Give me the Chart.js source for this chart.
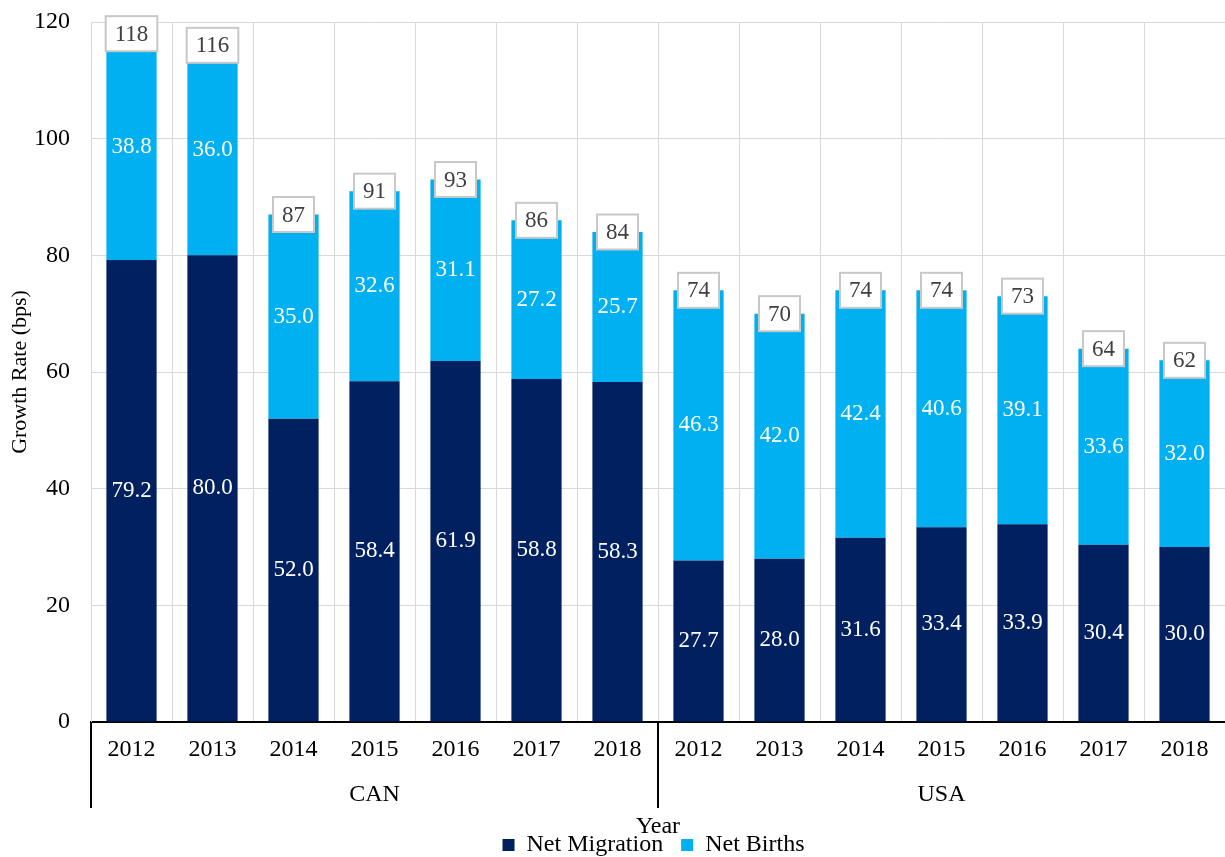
<!DOCTYPE html>
<html>
<head>
<meta charset="utf-8">
<title>Growth Rate</title>
<script src="https://cdn.jsdelivr.net/npm/chart.js@4.4.1/dist/chart.umd.min.js"></script>
<style>
  html, body { margin: 0; padding: 0; background: #fff; }
  #wrap { width: 1225px; height: 857px; position: relative; }
</style>
</head>
<body>
<div id="wrap"><canvas id="growthChart"></canvas></div>
<script>
// data
var years = ['2012', '2013', '2014', '2015', '2016', '2017', '2018',
             '2012', '2013', '2014', '2015', '2016', '2017', '2018'];
var groups = ['CAN', 'USA'];
var groupSize = 7;
var netMigration = [79.2, 80.0, 52.0, 58.4, 61.9, 58.8, 58.3,
                    27.7, 28.0, 31.6, 33.4, 33.9, 30.4, 30.0];
var netBirths = [38.8, 36.0, 35.0, 32.6, 31.1, 27.2, 25.7,
                 46.3, 42.0, 42.4, 40.6, 39.1, 33.6, 32.0];
var totals = [118, 116, 87, 91, 93, 86, 84, 74, 70, 74, 74, 73, 64, 62];
var yTicks = [0, 20, 40, 60, 80, 100, 120];

var serif = "'Liberation Serif', 'Times New Roman', serif";
Chart.defaults.font.family = serif;
Chart.defaults.color = '#000';

// white numbers inside each segment
var segmentLabels = {
    id: 'segmentLabels',
    afterDatasetsDraw: function(chart) {
        var ctx = chart.ctx;
        ctx.save();
        ctx.font = '23px ' + serif;
        ctx.fillStyle = '#fff';
        ctx.textAlign = 'center';
        ctx.textBaseline = 'middle';
        chart.data.datasets.forEach(function(ds, i) {
            var meta = chart.getDatasetMeta(i);
            meta.data.forEach(function(bar, j) {
                var p = bar.getProps(['x', 'y', 'base'], true);
                ctx.fillText(ds.data[j].toFixed(1), p.x, (p.y + p.base) / 2);
            });
        });
        ctx.restore();
    }
};

// boxed totals on top of each stack
var totalLabels = {
    id: 'totalLabels',
    afterDatasetsDraw: function(chart) {
        var ctx = chart.ctx;
        var yScale = chart.scales.y;
        var meta = chart.getDatasetMeta(1);
        ctx.save();
        ctx.font = '23px ' + serif;
        ctx.textAlign = 'center';
        ctx.textBaseline = 'middle';
        meta.data.forEach(function(bar, j) {
            var txt = String(totals[j]);
            var w = ctx.measureText(txt).width + 18;
            var h = 35;
            var x = bar.x;
            var y = yScale.getPixelForValue(totals[j]);
            ctx.fillStyle = '#fff';
            ctx.fillRect(x - w / 2, y - h / 2, w, h);
            ctx.strokeStyle = '#c8c8c8';
            ctx.lineWidth = 2;
            ctx.strokeRect(x - w / 2, y - h / 2, w, h);
            ctx.fillStyle = '#404040';
            ctx.fillText(txt, x, y + 1);
        });
        ctx.restore();
    }
};

// second row of the x axis: country groups and separators
var groupAxis = {
    id: 'groupAxis',
    afterLayout: function(chart) {
        var lg = chart.legend;
        lg.left += 41; lg.right += 41;
        lg.top += 10; lg.bottom += 10;
    },
    afterDraw: function(chart) {
        var ctx = chart.ctx;
        var xs = chart.scales.x;
        var bottom = chart.chartArea.bottom;
        ctx.save();
        ctx.strokeStyle = '#000';
        ctx.lineWidth = 2;
        ctx.font = '24px ' + serif;
        ctx.fillStyle = '#000';
        ctx.textAlign = 'center';
        ctx.textBaseline = 'middle';
        groups.forEach(function(g, k) {
            var first = k * groupSize;
            var last = first + groupSize - 1;
            var half = (xs.getPixelForValue(1) - xs.getPixelForValue(0)) / 2;
            var left = xs.getPixelForValue(first) - half;
            ctx.beginPath();
            ctx.moveTo(left, bottom);
            ctx.lineTo(left, bottom + 86);
            ctx.stroke();
            var mid = (xs.getPixelForValue(first) + xs.getPixelForValue(last)) / 2;
            ctx.fillText(g, mid, bottom + 73);
        });
        ctx.restore();
    }
};

var ctx = document.getElementById('growthChart').getContext('2d');
var growthChart = new Chart(ctx, {
    type: 'bar',
    data: {
        labels: years,
        datasets: [{
            label: 'Net Migration',
            data: netMigration,
            backgroundColor: '#002060',
            barPercentage: 0.62,
            categoryPercentage: 1
        }, {
            label: 'Net Births',
            data: netBirths,
            backgroundColor: '#00B0F0',
            barPercentage: 0.62,
            categoryPercentage: 1
        }]
    },
    options: {
        responsive: true,
        maintainAspectRatio: false,
        animation: false,
        layout: { padding: { top: 22, right: 0, bottom: 0, left: 0 } },
        plugins: {
            legend: {
                position: 'bottom',
                labels: {
                    boxWidth: 12,
                    boxHeight: 12,
                    padding: 18,
                    color: '#000',
                    font: { size: 24 }
                }
            },
            tooltip: { enabled: false }
        },
        scales: {
            x: {
                stacked: true,
                grid: { color: '#d9d9d9', drawTicks: false, offset: true },
                border: { color: '#000', width: 2 },
                ticks: { padding: 13, color: '#000', font: { size: 24 }, maxRotation: 0, autoSkip: false },
                title: {
                    display: true,
                    text: 'Year',
                    color: '#000',
                    font: { size: 24 },
                    padding: { top: 35.8, bottom: -36.4 }
                }
            },
            y: {
                stacked: true,
                min: 0,
                max: 120,
                afterBuildTicks: function(axis) {
                    axis.ticks = yTicks.map(function(v) { return { value: v }; });
                },
                afterFit: function(axis) {
                    axis.width = 91;
                    axis.paddingTop = 0;
                    axis.paddingBottom = 0;
                },
                grid: { color: '#d9d9d9', drawTicks: false },
                border: { color: '#d9d9d9' },
                ticks: { padding: 21, color: '#000', font: { size: 24 } },
                title: {
                    display: true,
                    text: 'Growth Rate (bps)',
                    color: '#000',
                    font: { size: 22 },
                    padding: { top: 7, bottom: 0 }
                }
            }
        }
    },
    plugins: [segmentLabels, totalLabels, groupAxis]
});
</script>
</body>
</html>
